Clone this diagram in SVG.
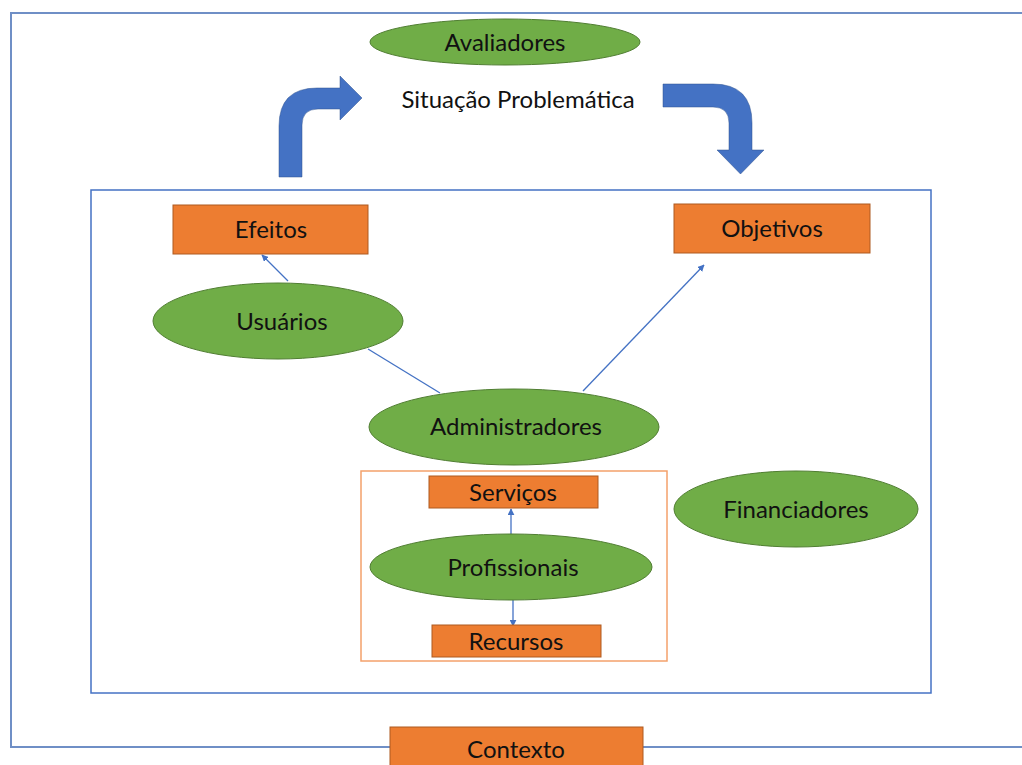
<svg xmlns="http://www.w3.org/2000/svg" width="1022" height="765" viewBox="0 0 1022 765">
<defs>
<style>
.ell{fill:#70AD47;stroke:#507E32;stroke-width:1}
.box{fill:#ED7D31;stroke:#AE5A21;stroke-width:1}
.t{font-family:Lato,"Open Sans","Liberation Sans",sans-serif;font-size:24px;fill:#111;text-anchor:middle;dominant-baseline:central}
.con{stroke:#4472C4;stroke-width:1.3;fill:none}
.big{fill:#4472C4;stroke:#2F528F;stroke-width:0.5}
</style>
<marker id="ah" viewBox="0 0 10 10" refX="9" refY="5" markerWidth="7" markerHeight="7" orient="auto" markerUnits="userSpaceOnUse">
<path d="M0,0 L10,5 L0,10 Z" fill="#4472C4"/>
</marker>
</defs>
<rect width="1022" height="765" fill="#fff"/>
<g id="frame-outer"><path d="M1024,13 L11,13 L11,747 L1024,747" fill="none" stroke="#6F8FC6" stroke-width="2"/></g>
<g id="frame-inner"><rect x="91" y="190" width="840" height="503" fill="none" stroke="#4472C4" stroke-width="1.5"/></g>
<g id="frame-prof"><rect x="361" y="471" width="306" height="190" fill="none" stroke="#F4A16B" stroke-width="1.5"/></g>
<g id="arrows-big">
<path class="big" d="M279,177 L279,126 Q279,88 317,88 L340,88 L340,76 L362,98 L340,120 L340,109 L318,109 Q302,109 302,125 L302,177 Z"/>
<path class="big" d="M663,84 L713,84 Q752,84 752,123 L752,150 L764,150 L740.5,174 L717,150 L729,150 L729,123 Q729,107 713,107 L663,107 Z"/>
</g>
<g id="connectors">
<line class="con" x1="288" y1="281" x2="262" y2="255" marker-end="url(#ah)"/>
<line class="con" x1="368" y1="349" x2="440" y2="393" stroke-width="1"/>
<line class="con" x1="583" y1="391" x2="704" y2="265" marker-end="url(#ah)"/>
<line class="con" x1="511" y1="534" x2="511" y2="509" marker-end="url(#ah)"/>
<line class="con" x1="513" y1="600" x2="513" y2="626" marker-end="url(#ah)"/>
</g>
<g id="avaliadores"><ellipse class="ell" cx="505" cy="42" rx="135" ry="23"/><text class="t" x="505" y="41">Avaliadores</text></g>
<g id="situacao"><text class="t" x="518" y="98" font-size="25">Situação Problemática</text></g>
<g id="efeitos"><rect class="box" x="173" y="205" width="195" height="49"/><text class="t" x="271" y="228">Efeitos</text></g>
<g id="objetivos"><rect class="box" x="674" y="204" width="196" height="49"/><text class="t" x="772" y="227">Objetivos</text></g>
<g id="usuarios"><ellipse class="ell" cx="278" cy="321" rx="125" ry="38"/><text class="t" x="282" y="320">Usuários</text></g>
<g id="administradores"><ellipse class="ell" cx="514" cy="427" rx="145" ry="38"/><text class="t" x="516" y="425">Administradores</text></g>
<g id="financiadores"><ellipse class="ell" cx="796" cy="509" rx="122" ry="38"/><text class="t" x="796" y="508">Financiadores</text></g>
<g id="servicos"><rect class="box" x="429" y="476" width="169" height="32"/><text class="t" x="513" y="491">Serviços</text></g>
<g id="profissionais"><ellipse class="ell" cx="511" cy="567" rx="141" ry="33"/><text class="t" x="513" y="566">Profissionais</text></g>
<g id="recursos"><rect class="box" x="432" y="625" width="169" height="32"/><text class="t" x="516" y="640">Recursos</text></g>
<g id="contexto"><rect class="box" x="390" y="727" width="253" height="42"/><text class="t" x="516" y="748">Contexto</text></g>
</svg>
